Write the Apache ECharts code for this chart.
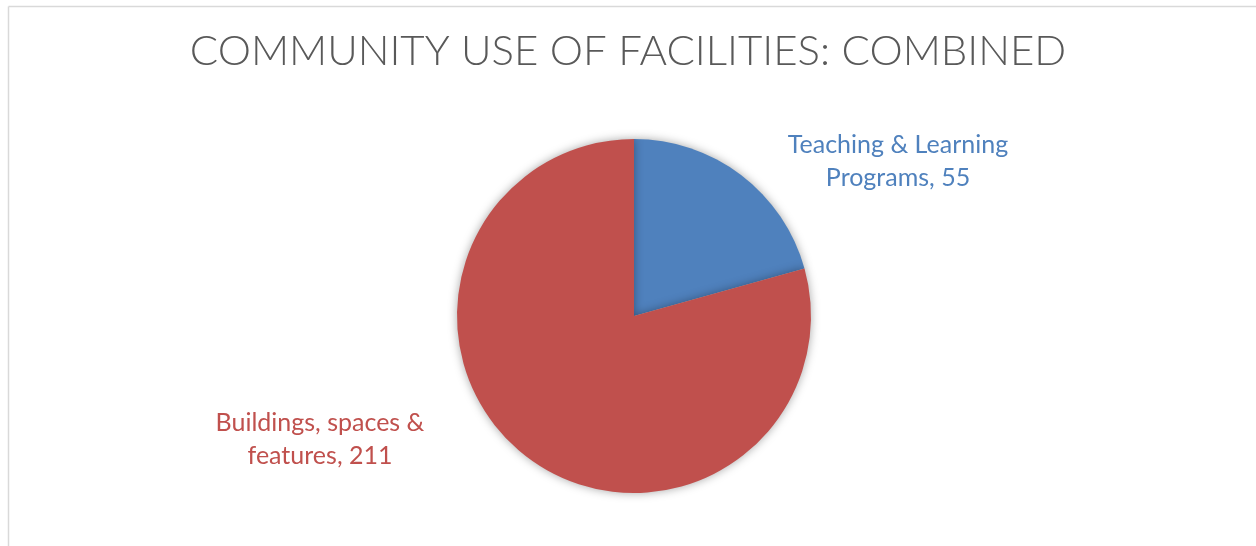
<!DOCTYPE html>
<html>
<head>
<meta charset="utf-8">
<script src="https://cdn.jsdelivr.net/npm/echarts@6/dist/echarts.min.js"></script>
<style>
  html, body { margin: 0; padding: 0; background: #fff; }
  #chart { width: 1256px; height: 546px; }
</style>
</head>
<body>
<div id="chart"></div>
<script>
// Category names and counts for the pie
const categories = ['Teaching & Learning\nPrograms', 'Buildings, spaces &\nfeatures'];
const counts = [55, 211];
const sliceColors = ['#4F81BD', '#C0504D'];
// Where each category label sits (centre of the text block)
const labelAnchors = [[898, 161], [320, 439]];

const chart = echarts.init(document.getElementById('chart'));

chart.setOption({
  animation: false,
  backgroundColor: '#ffffff',
  title: {
    text: 'COMMUNITY USE OF FACILITIES: COMBINED',
    left: 'center',
    top: 25,
    textStyle: {
      fontFamily: 'Lato',
      fontWeight: 300,
      fontSize: 42,
      color: '#595959'
    }
  },
  graphic: [
    { type: 'line', shape: { x1: 8.5, y1: 6.5, x2: 1256, y2: 6.5 }, style: { stroke: '#d9d9d9', lineWidth: 1.5 } },
    { type: 'line', shape: { x1: 8.5, y1: 6.5, x2: 8.5, y2: 546 }, style: { stroke: '#d9d9d9', lineWidth: 1.5 } }
  ],
  series: [{
    type: 'pie',
    center: [634, 316],
    radius: 177,
    startAngle: 90,
    clockwise: true,
    silent: true,
    data: categories.map((name, i) => ({
      name: name,
      value: counts[i],
      itemStyle: { color: sliceColors[i] },
      label: { color: sliceColors[i] }
    })),
    itemStyle: {
      shadowBlur: 10,
      shadowColor: 'rgba(0,0,0,0.35)',
      borderWidth: 0
    },
    label: {
      show: true,
      position: 'outside',
      formatter: p => p.name + ', ' + p.value,
      fontFamily: 'Lato',
      fontSize: 25,
      lineHeight: 33,
      align: 'center'
    },
    labelLine: { show: false },
    labelLayout: params => {
      const a = labelAnchors[params.dataIndex];
      return { x: a[0], y: a[1], align: 'center', verticalAlign: 'middle' };
    }
  }]
});
</script>
</body>
</html>
